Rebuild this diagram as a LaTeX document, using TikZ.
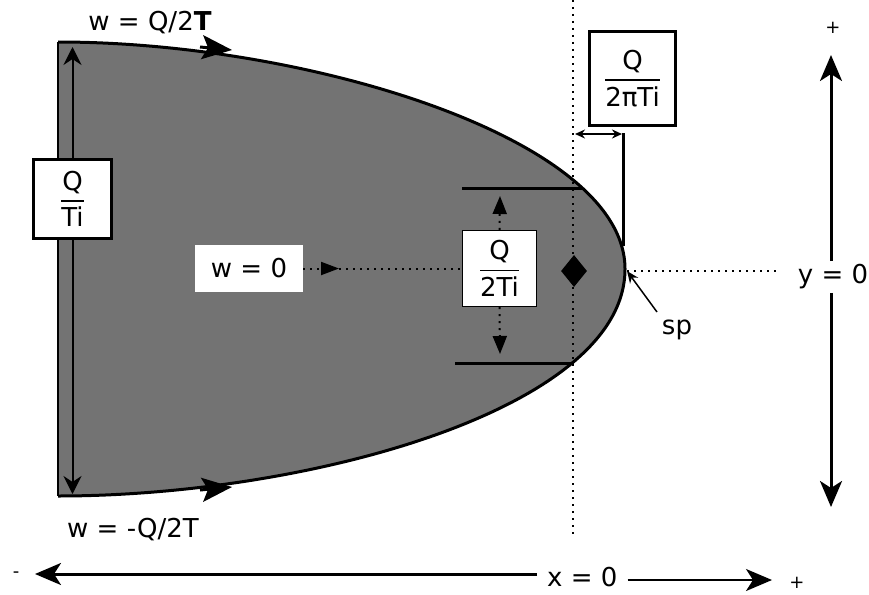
\documentclass[tikz,border=0pt]{standalone}
\usepackage{fontspec}
\setmainfont{DejaVu Sans}
\usepackage{amsmath}
\usetikzlibrary{arrows.meta,shapes.geometric}
\newcommand\Frc[2]{$\genfrac{}{}{1.8pt}{0}{\hbox{#1}}{\hbox{#2}}$}
\begin{document}
\begin{tikzpicture}[x=1pt,y=-1pt,
  font=\fontsize{26}{30}\selectfont,
  body/.style={fill=black!55},
  outline/.style={line width=3pt,line join=round},
  dotline/.style={line width=2pt,dash pattern=on 2pt off 5pt},
  axis/.style={line width=3pt},
  bigtip/.tip={Stealth[length=26pt,width=22pt,inset=7pt]},
  midtip/.tip={Stealth[length=18pt,width=18pt,inset=6pt]},
  dottip/.tip={Triangle[length=18pt,width=14pt]},
  fracbox/.style={draw,line width=3pt,fill=white,inner sep=0pt,align=center},
  small/.style={font=\fontsize{18}{20}\selectfont}]
\useasboundingbox (0,0) rectangle (869,594);

% body of the half-body
\coordinate (tl) at (58,42);
\coordinate (nose) at (625,269);
\coordinate (bl) at (58,496);
\filldraw[body,outline] (tl) .. controls (308,42) and (625,139) .. (nose)
  .. controls (625,409) and (308,496) .. (bl);
\draw[line width=2pt] (tl) -- (bl);

% arrowheads on the streamlines
\coordinate (ta0) at (200,47);
\coordinate (ta1) at (232,50);
\coordinate (ba0) at (200,490);
\coordinate (ba1) at (232,487);
\draw[line width=3pt,-{Stealth[length=30pt,width=24pt,inset=6pt]}] (ta0) -- (ta1);
\draw[line width=3pt,-{Stealth[length=30pt,width=24pt,inset=6pt]}] (ba0) -- (ba1);

% labels of the streamlines
\node (wtop) at (150,23) {w = Q/2\textbf{T}};
\node (wbot) at (133,530) {w = -Q/2T};

% Q/Ti width
\node[fracbox,minimum width=78pt,minimum height=79pt] (QTi) at (72.5,199) {\Frc{Q}{Ti}};
\coordinate (lt) at (72.5,47);
\coordinate (lb) at (72.5,494);
\draw[line width=2pt,-{midtip}] (QTi.north) -- (lt);
\draw[line width=2pt,-{midtip}] (QTi.south) -- (lb);

% vertical dotted line through the source
\coordinate (vt) at (573,0);
\coordinate (vb) at (573,536);
\draw[dotline] (vt) -- (vb);

% Q/2Ti half width at the source
\coordinate (h1a) at (462,188);
\coordinate (h1b) at (582,188);
\coordinate (h2a) at (455,363);
\coordinate (h2b) at (574,363);
\draw[line width=3pt] (h1a) -- (h1b);
\draw[line width=3pt] (h2a) -- (h2b);
\node[draw,line width=1.2pt,fill=white,inner sep=0pt,minimum width=74pt,minimum height=76pt] (Q2Ti) at (499.5,268.5) {\Frc{Q}{2Ti}};
\coordinate (ua) at (500,196);
\coordinate (da) at (500,354);
\draw[dotline,-{dottip}] (Q2Ti.north) -- (ua);
\draw[dotline,-{dottip}] (Q2Ti.south) -- (da);

% w = 0
\node[fill=white,inner sep=0pt,minimum width=108pt,minimum height=47pt] (w0) at (249,268.5) {w = 0};
\coordinate (wa) at (339,268.5);
\draw[dotline,-{Triangle[length=18pt,width=13pt]}] (w0.east) -- (wa);
\draw[dotline] (wa) -- (Q2Ti.west);

% source
\node[diamond,fill=black,inner sep=0pt,minimum width=26pt,minimum height=32pt] (src) at (574,271) {};

% Q/2piTi stand-off
\node[fracbox,minimum width=86pt,minimum height=94pt] (Q2pTi) at (632.5,78.5) {\Frc{Q}{2πTi}};
\coordinate (da1) at (575,134);
\coordinate (da2) at (622,134);
\draw[line width=2pt,{Stealth[length=10pt,width=9pt]}-{Stealth[length=10pt,width=9pt]}] (da1) -- (da2);
\coordinate (vl1) at (623.5,133);
\coordinate (vl2) at (623.5,246);
\draw[line width=3pt] (vl1) -- (vl2);

% stagnation point
\coordinate (sp) at (627,271);
\coordinate (spe) at (776,271);
\draw[dotline] (sp) -- (spe);
\node (splab) at (677,330) {sp};
\coordinate (spt) at (657,312);
\draw[line width=1.5pt,-{Stealth[length=12pt,width=10pt]}] (spt) -- (sp);

% y axis
\node (yl) at (833,277) {y = 0};
\coordinate (ytop) at (831,55);
\coordinate (ybot) at (831,507);
\draw[axis,-{bigtip}] (ytop |- yl.north) -- (ytop);
\draw[axis,-{bigtip}] (ybot |- yl.south) -- (ybot);
\node[small] (yplus) at (833,28) {+};

% x axis
\node[anchor=west,inner xsep=10pt,inner ysep=0pt] (xl) at (537,577) {x = 0};
\coordinate (xleft) at (35,574);
\coordinate (xright) at (772,580);
\draw[axis,-{bigtip}] (xl.west |- xleft) -- (xleft);
\draw[line width=2pt,-{bigtip}] (xl.east |- xright) -- (xright);
\node[small] (xminus) at (16,575) {-};
\node[small] (xplus) at (797,583) {+};
\end{tikzpicture}
\end{document}
